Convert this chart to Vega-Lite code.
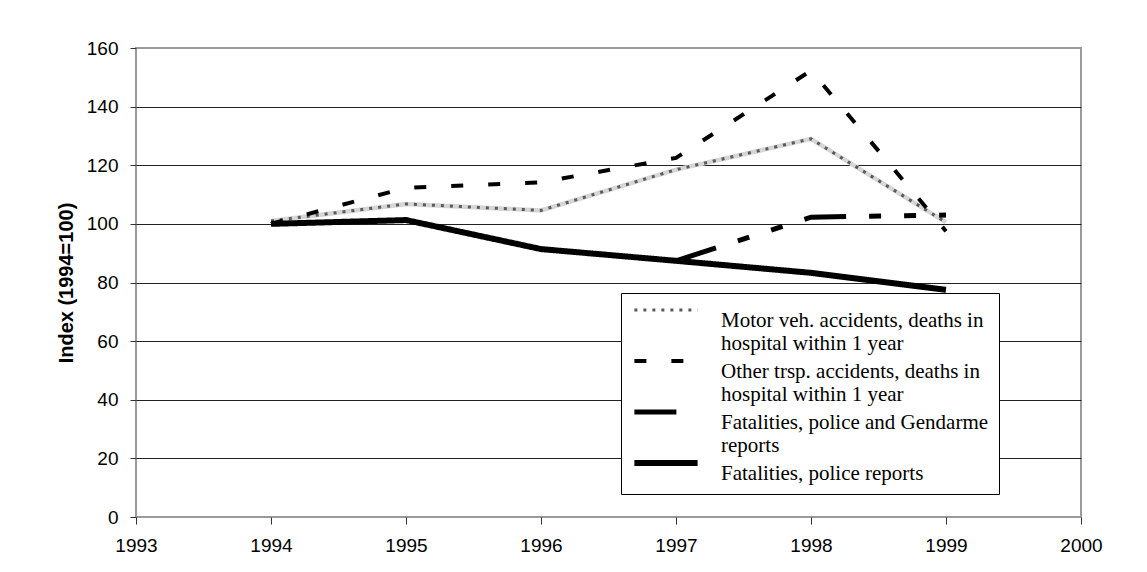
{
  "$schema": "https://vega.github.io/schema/vega-lite/v6.json",
  "width": 945,
  "height": 469,
  "autosize": {"type": "none"},
  "padding": {"left": 136, "top": 48, "right": 66, "bottom": 55},
  "background": "white",
  "config": {
    "view": {"stroke": "#9a9a9a", "strokeWidth": 2},
    "font": "Liberation Sans"
  },
  "data": {
    "values": [
      {"series": "Motor veh. accidents, deaths in hospital within 1 year", "year": 1994, "index": 101},
      {"series": "Motor veh. accidents, deaths in hospital within 1 year", "year": 1995, "index": 106.8},
      {"series": "Motor veh. accidents, deaths in hospital within 1 year", "year": 1996, "index": 104.6},
      {"series": "Motor veh. accidents, deaths in hospital within 1 year", "year": 1997, "index": 118.5},
      {"series": "Motor veh. accidents, deaths in hospital within 1 year", "year": 1998, "index": 129},
      {"series": "Motor veh. accidents, deaths in hospital within 1 year", "year": 1999, "index": 100.5},
      {"series": "Other trsp. accidents, deaths in hospital within 1 year", "year": 1994, "index": 100},
      {"series": "Other trsp. accidents, deaths in hospital within 1 year", "year": 1995, "index": 112.3},
      {"series": "Other trsp. accidents, deaths in hospital within 1 year", "year": 1996, "index": 114.2},
      {"series": "Other trsp. accidents, deaths in hospital within 1 year", "year": 1997, "index": 122.5},
      {"series": "Other trsp. accidents, deaths in hospital within 1 year", "year": 1998, "index": 152.3},
      {"series": "Other trsp. accidents, deaths in hospital within 1 year", "year": 1999, "index": 97.5},
      {"series": "Fatalities, police and Gendarme reports", "year": 1997, "index": 87.4},
      {"series": "Fatalities, police and Gendarme reports", "year": 1998, "index": 102.3},
      {"series": "Fatalities, police and Gendarme reports", "year": 1999, "index": 103},
      {"series": "Fatalities, police reports", "year": 1994, "index": 100},
      {"series": "Fatalities, police reports", "year": 1995, "index": 101.3},
      {"series": "Fatalities, police reports", "year": 1996, "index": 91.4},
      {"series": "Fatalities, police reports", "year": 1997, "index": 87.4},
      {"series": "Fatalities, police reports", "year": 1998, "index": 83.3},
      {"series": "Fatalities, police reports", "year": 1999, "index": 77.5}
    ]
  },
  "encoding": {
    "x": {
      "field": "year", "type": "quantitative",
      "scale": {"domain": [1993, 2000], "nice": false, "zero": false},
      "axis": {
        "title": null, "values": [1993, 1994, 1995, 1996, 1997, 1998, 1999, 2000],
        "format": "d", "grid": false, "domain": false,
        "tickColor": "#333", "tickSize": 7, "tickWidth": 1,
        "labelFont": "Liberation Sans", "labelFontSize": 19, "labelColor": "black",
        "labelPadding": 12, "labelFlush": false
      }
    },
    "y": {
      "field": "index", "type": "quantitative",
      "scale": {"domain": [0, 160], "nice": false},
      "axis": {
        "title": "Index (1994=100)", "titleFont": "Liberation Sans", "titleFontSize": 20,
        "titleFontWeight": "bold", "titleColor": "black", "titlePadding": 10,
        "values": [0, 20, 40, 60, 80, 100, 120, 140, 160],
        "grid": true,
        "gridColor": {"condition": {"test": "datum.value == 0 || datum.value == 160", "value": "transparent"}, "value": "#222"},
        "gridWidth": 1, "domain": false,
        "tickColor": "#333", "tickSize": 6, "tickWidth": 1,
        "labelFont": "Liberation Sans", "labelFontSize": 19, "labelColor": "black",
        "labelPadding": 12
      }
    }
  },
  "layer": [
    {
      "transform": [{"filter": "datum.series == 'Motor veh. accidents, deaths in hospital within 1 year'"}],
      "mark": {"type": "line", "color": "#d6d6d6", "strokeWidth": 4.5},
      "encoding": {}
    },
    {
      "mark": {"type": "line"},
      "encoding": {
        "color": {
          "field": "series", "type": "nominal",
          "scale": {
            "domain": ["Motor veh. accidents, deaths in hospital within 1 year", "Other trsp. accidents, deaths in hospital within 1 year", "Fatalities, police and Gendarme reports", "Fatalities, police reports"],
            "range": ["#5a5a5a", "black", "black", "black"]
          },
          "legend": {
            "title": null, "orient": "none", "legendX": 485, "legendY": 245,
            "fillColor": "white", "strokeColor": "black", "padding": 10,
            "labelFont": "Liberation Serif", "labelFontSize": 21, "labelColor": "black",
            "labelBaseline": "top", "labelOffset": 20, "labelLimit": 600,
            "symbolType": "stroke", "symbolSize": 4000, "clipHeight": 14, "rowPadding": 0,
            "labelExpr": "datum.label == 'Motor veh. accidents, deaths in hospital within 1 year' ? ['Motor veh. accidents, deaths in', 'hospital within 1 year'] : datum.label == 'Other trsp. accidents, deaths in hospital within 1 year' ? ['Other trsp. accidents, deaths in', 'hospital within 1 year'] : datum.label == 'Fatalities, police and Gendarme reports' ? ['Fatalities, police and Gendarme', 'reports'] : datum.label"
          }
        },
        "strokeDash": {
          "field": "series", "type": "nominal",
          "scale": {
            "domain": ["Motor veh. accidents, deaths in hospital within 1 year", "Other trsp. accidents, deaths in hospital within 1 year", "Fatalities, police and Gendarme reports", "Fatalities, police reports"],
            "range": [[3, 6], [12, 25], [42, 23, 12, 23, 12, 23], [1, 0]]
          }
        },
        "strokeWidth": {
          "field": "series", "type": "nominal",
          "scale": {
            "domain": ["Motor veh. accidents, deaths in hospital within 1 year", "Other trsp. accidents, deaths in hospital within 1 year", "Fatalities, police and Gendarme reports", "Fatalities, police reports"],
            "range": [3, 6, 6, 6.5]
          }
        }
      }
    }
  ]
}
